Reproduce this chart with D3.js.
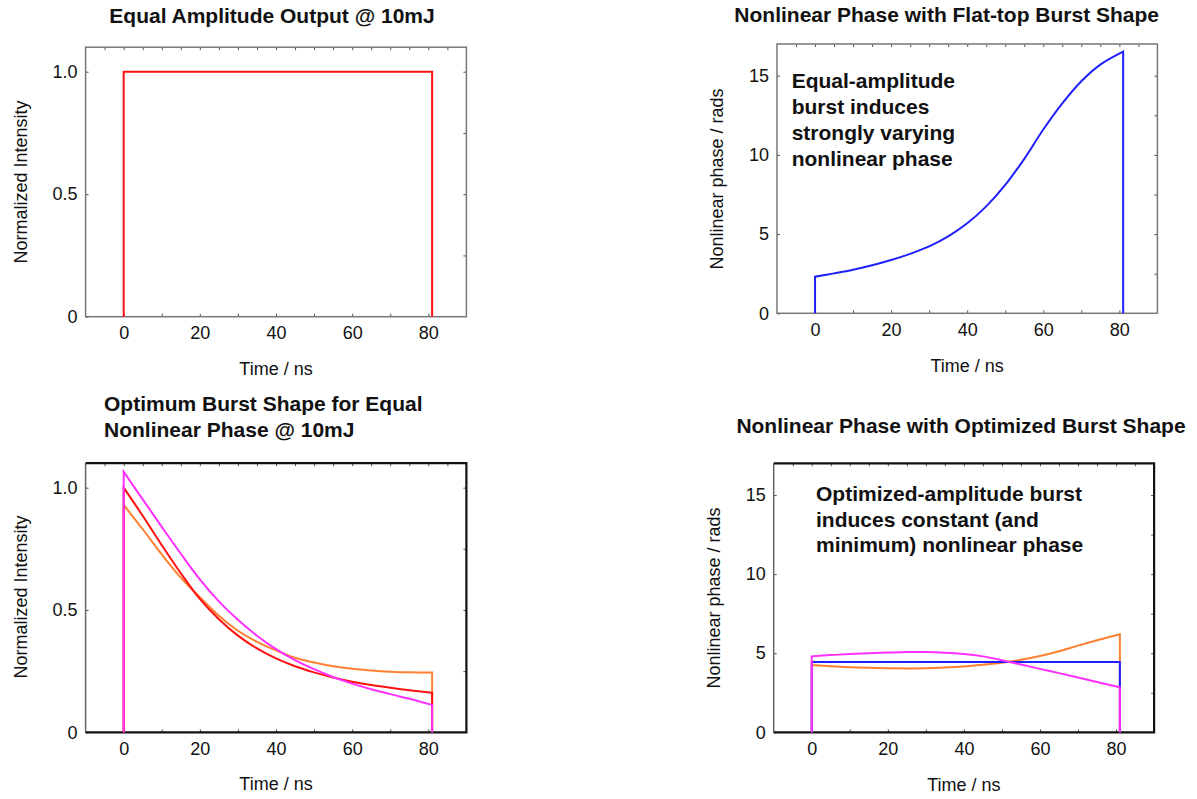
<!DOCTYPE html>
<html>
<head>
<meta charset="utf-8">
<script src="https://cdn.jsdelivr.net/npm/d3@7"></script>
<style>
  html, body { margin: 0; padding: 0; background: #fff; }
  svg { display: block; font-family: "Liberation Sans", Arial, sans-serif; }
</style>
</head>
<body>
<svg id="chart" width="1197" height="799"></svg>
<script>
// ---------------- DATA ----------------
const TIME = [0, 5, 10, 15, 20, 25, 30, 35, 40, 45, 50, 55, 60, 65, 70, 75, 81];

// Panel 1: equal amplitude (flat-top) burst
const FLAT_TIME = [0, 81];
const FLAT_INTENSITY = [1.0, 1.0];

// Panel 2: nonlinear phase with flat-top burst
const PHASE_FLAT = [2.31, 2.52, 2.75, 3.03, 3.36, 3.75, 4.22, 4.85, 5.68, 6.75, 8.1, 9.75, 11.6, 13.25, 14.65, 15.7, 16.52];

// Panel 3: optimum burst shapes
const SHAPE_RED     = [1.0, 0.885, 0.765, 0.65, 0.545, 0.462, 0.395, 0.343, 0.302, 0.27, 0.245, 0.224, 0.207, 0.193, 0.182, 0.172, 0.162];
const SHAPE_ORANGE  = [0.93, 0.83, 0.727, 0.632, 0.552, 0.476, 0.415, 0.37, 0.335, 0.305, 0.285, 0.27, 0.26, 0.253, 0.248, 0.245, 0.244];
const SHAPE_MAGENTA = [1.065, 0.952, 0.84, 0.73, 0.625, 0.535, 0.46, 0.395, 0.34, 0.295, 0.258, 0.226, 0.199, 0.176, 0.156, 0.137, 0.112];

// Panel 4: nonlinear phase with optimized burst shapes
const PHASE_BLUE    = [4.45, 4.45, 4.45, 4.45, 4.45, 4.45, 4.45, 4.45, 4.45, 4.45, 4.45, 4.45, 4.45, 4.45, 4.45, 4.45, 4.45];
const PHASE_ORANGE  = [4.25, 4.18, 4.12, 4.08, 4.05, 4.04, 4.05, 4.09, 4.16, 4.27, 4.4, 4.58, 4.82, 5.12, 5.48, 5.82, 6.2];
const PHASE_MAGENTA = [4.8, 4.88, 4.95, 5.0, 5.04, 5.07, 5.07, 5.03, 4.95, 4.8, 4.56, 4.29, 4.01, 3.74, 3.46, 3.18, 2.84];

const X_TICKS = [0, 20, 40, 60, 80];
const Y_TICKS_INT = [0, 0.5, 1.0];
const Y_TICK_LABELS_INT = ["0", "0.5", "1.0"];
const Y_TICKS_PHASE = [0, 5, 10, 15];
const Y_TICK_LABELS_PHASE = ["0", "5", "10", "15"];

const TITLES = [
  ["Equal Amplitude Output @ 10mJ"],
  ["Nonlinear Phase with Flat-top Burst Shape"],
  ["Optimum Burst Shape for Equal", "Nonlinear Phase @ 10mJ"],
  ["Nonlinear Phase with Optimized Burst Shape"]
];
const NOTE_FLAT = ["Equal-amplitude", "burst induces", "strongly varying", "nonlinear phase"];
const NOTE_OPT = ["Optimized-amplitude burst", "induces constant (and", "minimum) nonlinear phase"];
const X_LABEL = "Time / ns";
const Y_LABEL_INT = "Normalized Intensity";
const Y_LABEL_PHASE = "Nonlinear phase / rads";

// ---------------- COLORS ----------------
const C_RED = "#ff1010", C_BLUE = "#2020ff", C_ORANGE = "#ff8030", C_MAGENTA = "#ff30ff";
const TEXT = "#111";

const svg = d3.select("#chart");

function panel(cfg) {
  const x = d3.scaleLinear().domain([-10, 90]).range([cfg.x0, cfg.x1]);
  const y = d3.scaleLinear().domain([0, cfg.ymax]).range([cfg.y0, cfg.y1]);
  const g = svg.append("g");
  const L = x(-10), R = x(90), T = y(cfg.ymax), B = y(0);

  // small inward ticks on all sides
  const top = d3.axisTop(x).tickValues(d3.range(-5, 90, 5)).tickSizeInner(-3).tickSizeOuter(0).tickFormat("");
  g.append("g").attr("transform", `translate(0,${T})`).call(top);
  const bottom = d3.axisBottom(x).tickValues(d3.range(0, 90, 10)).tickSizeInner(-3).tickSizeOuter(0).tickPadding(9.5)
    .tickFormat(d => X_TICKS.includes(d) ? String(d) : "");
  g.append("g").attr("transform", `translate(0,${B})`).call(bottom);
  const left = d3.axisLeft(y).tickValues(cfg.yTicks).tickSizeInner(-3).tickSizeOuter(0).tickPadding(8)
    .tickFormat((d, i) => cfg.yLabels[i]);
  g.append("g").attr("transform", `translate(${L},0)`).call(left);
  const right = d3.axisRight(y).tickValues(d3.range(cfg.rstep, cfg.ymax, cfg.rstep)).tickSizeInner(-3).tickSizeOuter(0).tickFormat("");
  g.append("g").attr("transform", `translate(${R},0)`).call(right);

  g.selectAll(".domain").remove();
  g.selectAll(".tick line").attr("stroke", "#555").attr("stroke-width", 1);
  g.selectAll(".tick text").attr("font-size", 18).attr("fill", TEXT).attr("font-family", "Liberation Sans, Arial, sans-serif");

  // frame
  if (cfg.heavy) {
    g.append("line").attr("x1", L).attr("x2", L).attr("y1", T).attr("y2", B).attr("stroke", "#666").attr("stroke-width", 1.5);
    g.append("path").attr("d", `M${L},${T}H${R}V${B}H${L}`).attr("fill", "none").attr("stroke", "#111").attr("stroke-width", 2.2);
  } else {
    g.append("rect").attr("x", L).attr("y", T).attr("width", R - L).attr("height", B - T)
      .attr("fill", "none").attr("stroke", "#777").attr("stroke-width", 1.5);
  }

  // series
  const line = d3.line().x(d => x(d[0])).y(d => y(d[1])).curve(cfg.curve || d3.curveCatmullRom.alpha(0.5));
  cfg.series.forEach(s => {
    const pts = s.t.map((t, i) => [t, s.v[i]]);
    const inner = line(pts);
    const tEnd = s.t[s.t.length - 1];
    const d = `M${x(s.t[0])},${y(0)}L` + inner.slice(1) + `L${x(tEnd)},${y(0)}`;
    g.append("path").attr("d", d).attr("fill", "none").attr("stroke", s.color).attr("stroke-width", 2)
      .attr("stroke-linejoin", "miter");
  });

  // axis labels
  g.append("text").attr("x", (L + R) / 2).attr("y", cfg.xlabY).attr("text-anchor", "middle")
    .attr("font-size", 18).attr("fill", TEXT).text(X_LABEL);
  g.append("text").attr("transform", `translate(${cfg.ylabX},${cfg.ylabY}) rotate(-90)`).attr("text-anchor", "middle")
    .attr("dy", "0.35em").attr("font-size", 18).attr("fill", TEXT).text(cfg.ylabel);

  // title
  const tt = g.append("text").attr("font-size", 21).attr("font-weight", "bold").attr("fill", TEXT)
    .attr("text-anchor", cfg.titleAnchor);
  cfg.title.forEach((s, i) => tt.append("tspan").attr("x", cfg.titleX).attr("y", cfg.titleY + i * 25.5).text(s));

  // note
  if (cfg.note) {
    const nt = g.append("text").attr("font-size", 21).attr("font-weight", "bold").attr("fill", TEXT);
    cfg.note.forEach((s, i) => nt.append("tspan").attr("x", cfg.noteX).attr("y", cfg.noteY + i * 25.8).text(s));
  }
}

panel({
  x0: 85.6, x1: 466.4, y0: 316.7, y1: 47.2, ymax: 1.1, rstep: 0.25,
  yTicks: Y_TICKS_INT, yLabels: Y_TICK_LABELS_INT, ylabel: Y_LABEL_INT,
  xlabY: 375, ylabX: 21, ylabY: 182,
  title: TITLES[0], titleX: 272, titleY: 23, titleAnchor: "middle",
  curve: d3.curveLinear,
  series: [{ t: FLAT_TIME, v: FLAT_INTENSITY, color: C_RED }]
});

panel({
  x0: 777, x1: 1157.4, y0: 313.3, y1: 44, ymax: 17, rstep: 2.5,
  yTicks: Y_TICKS_PHASE, yLabels: Y_TICK_LABELS_PHASE, ylabel: Y_LABEL_PHASE,
  xlabY: 372, ylabX: 717, ylabY: 179,
  title: TITLES[1], titleX: 946.7, titleY: 22, titleAnchor: "middle",
  note: NOTE_FLAT, noteX: 791.7, noteY: 88.3,
  series: [{ t: TIME, v: PHASE_FLAT, color: C_BLUE }]
});

panel({
  x0: 85.6, x1: 466.4, y0: 732.3, y1: 463.2, ymax: 1.1, rstep: 0.25, heavy: true,
  yTicks: Y_TICKS_INT, yLabels: Y_TICK_LABELS_INT, ylabel: Y_LABEL_INT,
  xlabY: 790, ylabX: 21, ylabY: 597,
  title: TITLES[2], titleX: 104, titleY: 411, titleAnchor: "start",
  series: [
    { t: TIME, v: SHAPE_ORANGE, color: C_ORANGE },
    { t: TIME, v: SHAPE_RED, color: C_RED },
    { t: TIME, v: SHAPE_MAGENTA, color: C_MAGENTA }
  ]
});

panel({
  x0: 773.7, x1: 1154.1, y0: 732.3, y1: 463.4, ymax: 17, rstep: 2.5, heavy: true,
  yTicks: Y_TICKS_PHASE, yLabels: Y_TICK_LABELS_PHASE, ylabel: Y_LABEL_PHASE,
  xlabY: 790.5, ylabX: 714, ylabY: 598,
  title: TITLES[3], titleX: 961, titleY: 433, titleAnchor: "middle",
  note: NOTE_OPT, noteX: 816, noteY: 500.7,
  series: [
    { t: TIME, v: PHASE_ORANGE, color: C_ORANGE },
    { t: TIME, v: PHASE_BLUE, color: C_BLUE },
    { t: TIME, v: PHASE_MAGENTA, color: C_MAGENTA }
  ]
});
</script>
</body>
</html>
